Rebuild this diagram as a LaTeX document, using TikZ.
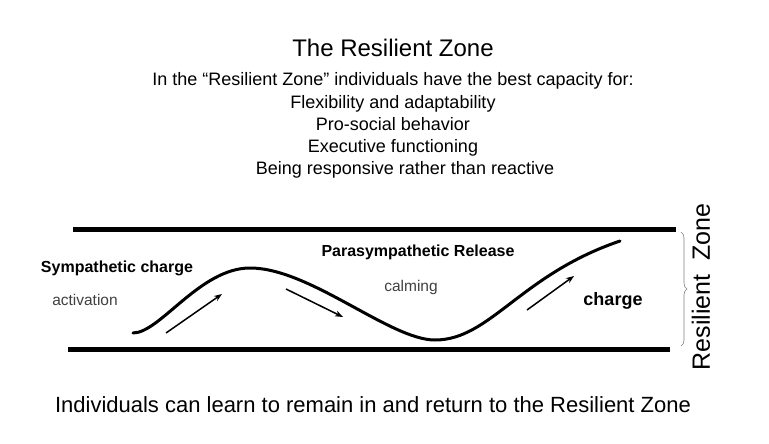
\documentclass[tikz,border=0pt]{standalone}
\usepackage{fontspec}
\setmainfont{Liberation Sans}
\usetikzlibrary{decorations.pathreplacing,arrows.meta}
\begin{document}
\begin{tikzpicture}[x=1pt,y=-1pt,
  bar/.style={line width=5pt},
  wave/.style={line width=3pt,line cap=round},
  arr/.style={line width=1.5pt,-{Stealth[length=8pt,width=6pt]}},
  lbl/.style={font=\fontsize{15.5}{18}\selectfont,text=black!75},
  blbl/.style={font=\fontsize{16}{18}\selectfont\bfseries},
  txt/.style={font=\fontsize{18}{20}\selectfont,anchor=base}]
\useasboundingbox[fill=white] (0,0) rectangle (769,444);
\node[font=\fontsize{24}{28}\selectfont] (title) at (393,48) {The Resilient Zone};
\node[txt] (l1) at (393,86) {In the “Resilient Zone” individuals have the best capacity for:};
\node[txt] (l2) at (393,108) {Flexibility and adaptability};
\node[txt] (l3) at (393,130) {Pro-social behavior};
\node[txt] (l4) at (393,152) {Executive functioning};
\node[txt] (l5) at (405,174) {Being responsive rather than reactive};
\coordinate (t1) at (73,229); \coordinate (t2) at (676,229);
\coordinate (b1) at (68,349); \coordinate (b2) at (670,349);
\draw[bar] (t1) -- (t2);
\draw[bar] (b1) -- (b2);
\coordinate (w0) at (133,333); \coordinate (w1) at (250,268);
\coordinate (w2) at (435,340); \coordinate (w3) at (620,241);
\draw[wave] (w0) .. controls (160,333) and (200,268) .. (w1)
  .. controls (310,268) and (390,340) .. (w2)
  .. controls (490,340) and (520,275) .. (w3);
\coordinate (a1s) at (166,333); \coordinate (a1e) at (222,294);
\coordinate (a2s) at (286,289); \coordinate (a2e) at (343,317);
\coordinate (a3s) at (527,310); \coordinate (a3e) at (574,276);
\draw[arr] (a1s) -- (a1e);
\draw[arr] (a2s) -- (a2e);
\draw[arr] (a3s) -- (a3e);
\coordinate (br1) at (681,232); \coordinate (br2) at (681,346);
\draw[black!50,line width=0.6pt,decorate,decoration={brace,amplitude=6pt}] (br1) -- (br2);
\node[rotate=90,font=\fontsize{25}{28}\selectfont] (rz) at (701,287) {Resilient\ \ Zone};
\node[blbl] (sc) at (117,268) {Sympathetic charge};
\node[lbl] (act) at (85,300) {activation};
\node[blbl] (pr) at (418,252) {Parasympathetic Release};
\node[lbl] (calm) at (411,287) {calming};
\node[blbl,font=\fontsize{18}{20}\selectfont\bfseries] (ch) at (613,301) {charge};
\node[font=\fontsize{22}{25}\selectfont] (bot) at (373,405) {Individuals can learn to remain in and return to the Resilient Zone};
\end{tikzpicture}
\end{document}
